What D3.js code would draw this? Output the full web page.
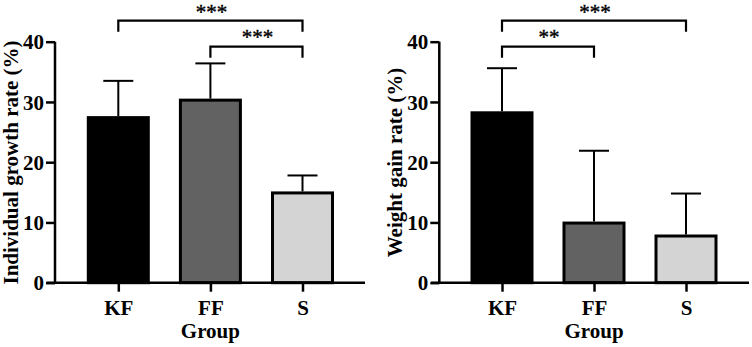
<!DOCTYPE html>
<html>
<head>
<meta charset="utf-8">
<script src="https://cdn.jsdelivr.net/npm/d3@7"></script>
<style>
  html, body { margin: 0; padding: 0; background: #fff; }
  svg { display: block; }
</style>
</head>
<body>
<svg id="chart" width="752" height="347"></svg>
<script>
// ---- data ----
const categories = ["KF", "FF", "S"];
const growthMeans = [27.4, 30.3, 14.9];
const growthErrs = [6.1, 6.1, 2.9];
const gainMeans = [28.2, 9.9, 7.75];
const gainErrs = [7.4, 12.0, 7.05];
const yTicks = [0, 10, 20, 30, 40];
const growthSig = [
  { from: "KF", to: "S", label: "***", level: 0 },
  { from: "FF", to: "S", label: "***", level: 1 }
];
const gainSig = [
  { from: "KF", to: "S", label: "***", level: 0 },
  { from: "KF", to: "FF", label: "**", level: 1 }
];
const barColors = ["#000000", "#626262", "#d4d4d4"];

const svg = d3.select("#chart");
const serif = "'Liberation Serif', 'Times New Roman', serif";

function panel(opts) {
  const { axisX, xStart, xEnd, c0, c2, means, errs, sig, title, titleX } = opts;
  const y = d3.scaleLinear().domain([0, 40]).range([282.7, 41.7]);
  const x = d3.scalePoint().domain(categories).range([c0, c2]);
  const bw = 60;
  const g = svg.append("g");

  // bars
  g.selectAll("rect.bar").data(categories).join("rect")
    .attr("x", d => x(d) - bw / 2)
    .attr("y", (d, i) => y(means[i]))
    .attr("width", bw)
    .attr("height", (d, i) => y(0) - y(means[i]))
    .attr("fill", (d, i) => barColors[i])
    .attr("stroke", "#000").attr("stroke-width", 3);

  // error bars
  g.selectAll("line.err").data(categories).join("line")
    .attr("x1", d => x(d)).attr("x2", d => x(d))
    .attr("y1", (d, i) => y(means[i]) - 1.5)
    .attr("y2", (d, i) => y(means[i] + errs[i]))
    .attr("stroke", "#000").attr("stroke-width", 2);
  g.selectAll("line.cap").data(categories).join("line")
    .attr("x1", d => x(d) - 15).attr("x2", d => x(d) + 15)
    .attr("y1", (d, i) => y(means[i] + errs[i]))
    .attr("y2", (d, i) => y(means[i] + errs[i]))
    .attr("stroke", "#000").attr("stroke-width", 2);

  // y axis
  const yAxis = d3.axisLeft(y).tickValues(yTicks).tickSize(9).tickPadding(2);
  const ya = g.append("g").attr("transform", `translate(${axisX},0)`).call(yAxis);
  ya.select(".domain").attr("d", `M0,${y(0)}V${y(40)}`).attr("stroke-width", 2.5);
  ya.selectAll(".tick line").attr("stroke-width", 2.5);
  ya.selectAll(".tick text").attr("font-family", serif).attr("font-weight", "bold")
    .attr("font-size", 21).attr("fill", "#000").attr("dy", "0.34em");

  // x axis
  const xAxis = d3.axisBottom(x).tickSize(9).tickPadding(8);
  const xa = g.append("g").attr("transform", `translate(0,${y(0)})`).call(xAxis);
  xa.select(".domain").attr("d", `M${xStart},0H${xEnd}`).attr("stroke-width", 2.5);
  xa.selectAll(".tick line").attr("stroke-width", 2.5);
  xa.selectAll(".tick text").attr("font-family", serif).attr("font-weight", "bold")
    .attr("font-size", 21).attr("fill", "#000");

  // axis titles
  g.append("text")
    .attr("x", x("FF")).attr("y", 338)
    .attr("text-anchor", "middle")
    .attr("font-family", serif).attr("font-weight", "bold").attr("font-size", 21)
    .text("Group");
  g.append("text")
    .attr("transform", `translate(${titleX},162.5) rotate(-90)`)
    .attr("text-anchor", "middle")
    .attr("font-family", serif).attr("font-weight", "bold").attr("font-size", 21)
    .text(title);

  // significance brackets
  const levelTop = [20.7, 46.7];
  const levelText = [19, 44];
  sig.forEach(s => {
    const x1 = x(s.from), x2 = x(s.to), top = levelTop[s.level];
    g.append("path")
      .attr("d", `M${x1},${top + 11}V${top}H${x2}V${top + 11}`)
      .attr("fill", "none").attr("stroke", "#000").attr("stroke-width", 2.2);
    g.append("text")
      .attr("x", (x1 + x2) / 2 + 1).attr("y", levelText[s.level])
      .attr("text-anchor", "middle")
      .attr("font-family", serif).attr("font-size", 21)
      .attr("stroke", "#000").attr("stroke-width", 0.4)
      .text(s.label);
  });
}

panel({ axisX: 55, xStart: 46.5, xEnd: 365, c0: 118.3, c2: 302.5,
  means: growthMeans, errs: growthErrs, sig: growthSig,
  title: "Individual growth rate (%)", titleX: 18 });
panel({ axisX: 439.3, xStart: 431, xEnd: 749, c0: 502, c2: 686,
  means: gainMeans, errs: gainErrs, sig: gainSig,
  title: "Weight gain rate (%)", titleX: 402 });
</script>
</body>
</html>
